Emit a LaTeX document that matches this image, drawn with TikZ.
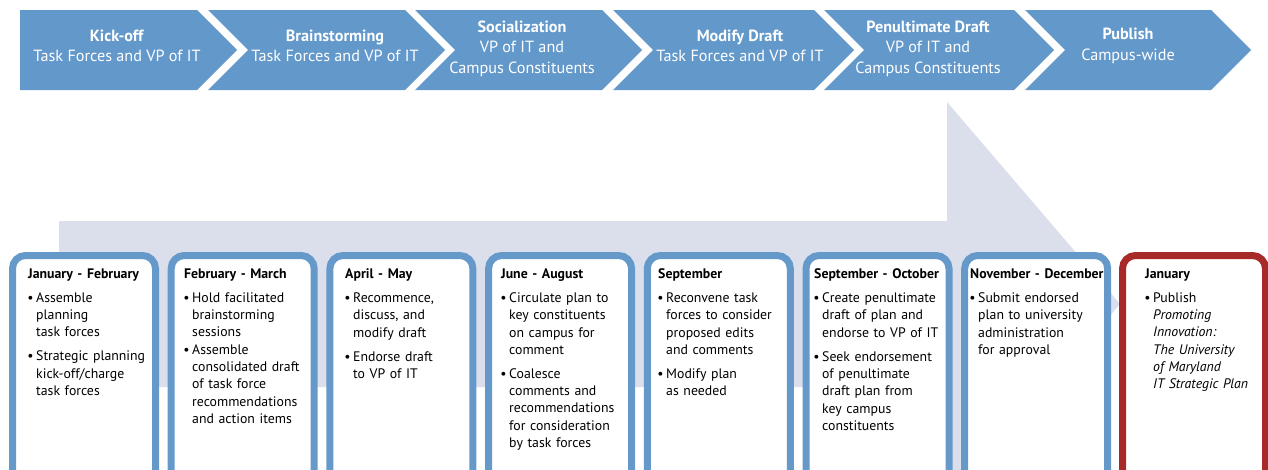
\documentclass[tikz,border=0pt]{standalone}
\usepackage{fontspec}
\setmainfont{PT Sans}

\definecolor{chevblue}{RGB}{99,152,203}
\definecolor{boxblue}{RGB}{101,153,202}
\definecolor{boxred}{RGB}{168,42,40}
\definecolor{arrowgray}{RGB}{218,223,235}

\newcommand{\bitem}[2][0pt]{\par\vspace{#1}{\leftskip=8pt\noindent\llap{\textbullet\hspace{2.5pt}}#2\par}}

\begin{document}
\begin{tikzpicture}
      [x=1pt,y=-1pt,
       chev/.style={fill=chevblue},
       chevtext/.style={text=white,align=center,inner sep=0pt,font=\fontsize{16.2}{20.5}\selectfont},
       monthbox/.style={draw=boxblue,line width=7pt,fill=white,rounded corners=13pt},
       monthtext/.style={anchor=north west,inner sep=0pt,text width=140pt,align=left,font=\fontsize{13.8}{17.3}\selectfont}]
      \useasboundingbox (0,0) rectangle (1268,469);
      \clip (0,0) rectangle (1268,469);

      \fill[arrowgray] (59,221) -- (947,221) -- (947,102) -- (1120,304)
        -- (947,506) -- (947,387) -- (59,387) -- cycle;

      \foreach \l/\s/\d in {20/197/0, 208/405/40, 415/602/40, 613/814/40, 824/1014/40, 1025/1211/40}
      \fill[chev] (\l,10) -- (\s,10) -- (\s+40,50) -- (\s,90) -- (\l,90) -- (\l+\d,50) -- cycle;

      \node[chevtext] (kickoff) at (117,46) {\textbf{Kick-off}\\Task Forces and VP of IT};
      \node[chevtext] (brainstorm) at (335,46) {\textbf{Brainstorming}\\Task Forces and VP of IT};
      \node[chevtext] (social) at (522,48.5) {\textbf{Socialization}\\VP of IT and\\Campus Constituents};
      \node[chevtext] (modify) at (740,46) {\textbf{Modify Draft}\\Task Forces and VP of IT};
      \node[chevtext] (penult) at (928,48.5) {\textbf{Penultimate Draft}\\VP of IT and\\Campus Constituents};
      \node[chevtext] (publish) at (1128,46) {\textbf{Publish}\\Campus-wide};

      \foreach \i in {0,...,6}
      \draw[monthbox] (12.5+158.7*\i,255.5) rectangle ++(143,260);
      \draw[monthbox,draw=boxred] (1122.5,255.5) rectangle ++(143,260);

      \node[monthtext] (janfeb) at (28,268.5) {\textbf{January - February}\par\vspace{6.7pt}
        \bitem{Assemble\newline planning\newline task forces}
        \bitem[6.7pt]{Strategic planning\newline kick-off/charge\newline task forces}};
      \node[monthtext] (febmar) at (184,268.5) {\textbf{February - March}\par\vspace{6.7pt}
        \bitem{Hold facilitated\newline brainstorming\newline sessions}
        \bitem{Assemble\newline consolidated draft\newline of task force\newline recommendations\newline and action items}};
      \node[monthtext] (aprmay) at (345,268.5) {\textbf{April - May}\par\vspace{6.7pt}
        \bitem{Recommence,\newline discuss, and\newline modify draft}
        \bitem[6.7pt]{Endorse draft\newline to VP of IT}};
      \node[monthtext] (junaug) at (501,268.5) {\textbf{June - August}\par\vspace{6.7pt}
        \bitem{Circulate plan to\newline key constituents\newline on campus for\newline comment}
        \bitem[6.7pt]{Coalesce\newline comments and\newline recommendations\newline for consideration\newline by task forces}};
      \node[monthtext] (sep) at (658,268.5) {\textbf{September}\par\vspace{6.7pt}
        \bitem{Reconvene task\newline forces to consider\newline proposed edits\newline and comments}
        \bitem[6.7pt]{Modify plan\newline as needed}};
      \node[monthtext] (sepoct) at (814,268.5) {\textbf{September - October}\par\vspace{6.7pt}
        \bitem{Create penultimate\newline draft of plan and\newline endorse to VP of IT}
        \bitem[6.7pt]{Seek endorsement\newline of penultimate\newline draft plan from\newline key campus\newline constituents}};
      \node[monthtext] (novdec) at (970,268.5) {\textbf{November - December}\par\vspace{6.7pt}
        \bitem{Submit endorsed\newline plan to university\newline administration\newline for approval}};
      \node[monthtext] (jan) at (1145,268.5) {\textbf{January}\par\vspace{6.7pt}
        \bitem{Publish\newline \textit{Promoting\newline Innovation:\newline The University\newline of Maryland\newline IT Strategic Plan}}};
    \end{tikzpicture}
\end{document}
